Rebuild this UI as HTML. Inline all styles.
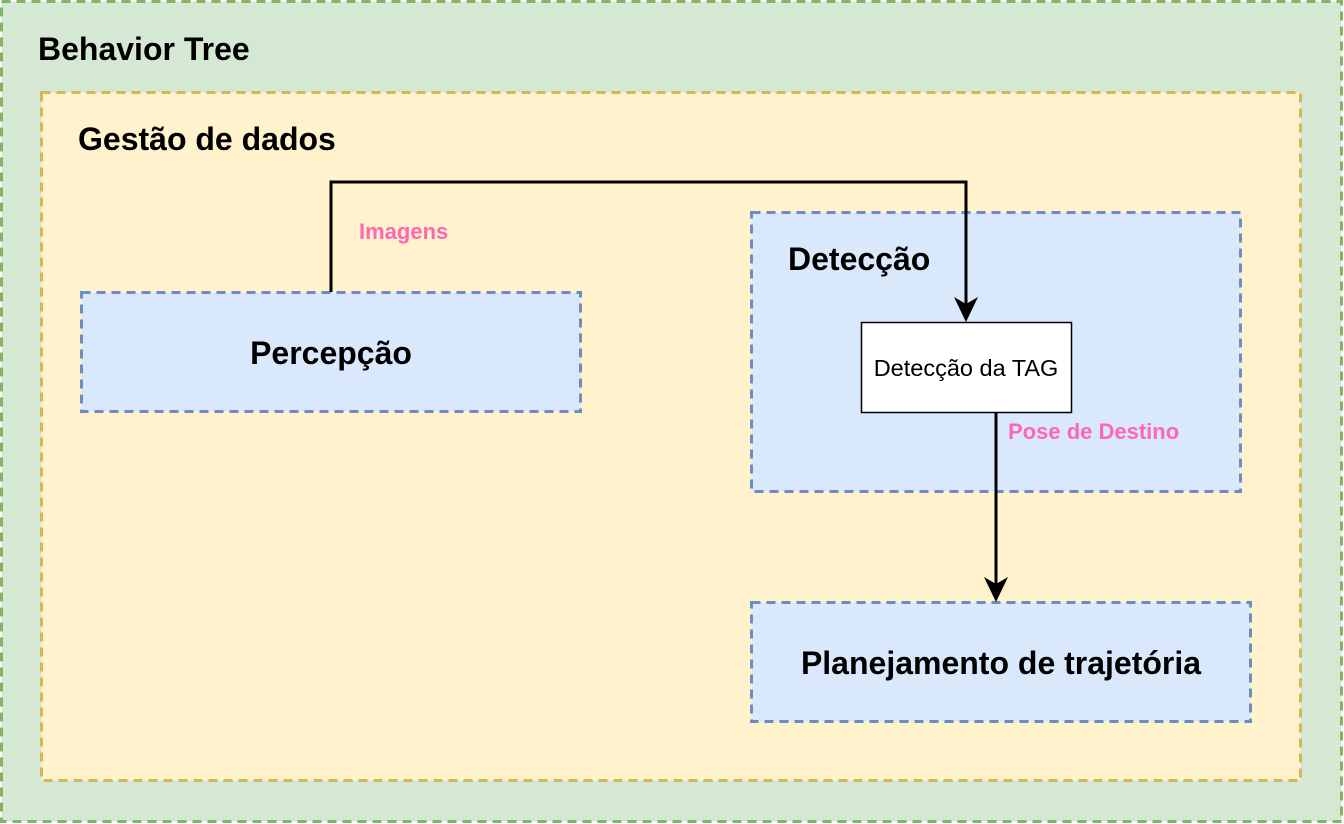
<!DOCTYPE html>
<html><head><meta charset="utf-8"><style>
html,body{margin:0;padding:0;background:#fff;}
svg{display:block;}
text{font-family:"Liberation Sans",sans-serif;}
</style></head><body>
<svg width="1344" height="824" viewBox="0 0 1344 824" xmlns="http://www.w3.org/2000/svg">
<rect x="1.5" y="1.5" width="1340" height="820" fill="#d5e8d4" stroke="#82b366" stroke-width="3" stroke-dasharray="9 6"/>
<rect x="41.5" y="92.5" width="1259" height="688" fill="#fff2cc" stroke="#d6b656" stroke-width="3" stroke-dasharray="9 6"/>
<rect x="81.5" y="292.5" width="499" height="119" fill="#dae8fc" stroke="#6c8ebf" stroke-width="3" stroke-dasharray="9 6"/>
<rect x="751.5" y="212.5" width="489" height="279" fill="#dae8fc" stroke="#6c8ebf" stroke-width="3" stroke-dasharray="9 6"/>
<rect x="751.5" y="602.5" width="499" height="119" fill="#dae8fc" stroke="#6c8ebf" stroke-width="3" stroke-dasharray="9 6"/>
<rect x="861.5" y="322.5" width="210" height="90" fill="#fff" stroke="#000" stroke-width="1.5"/>
<polyline points="331,292 331,182 966,182 966,308" fill="none" stroke="#000" stroke-width="3"/>
<polygon points="954,297 966,322 978,297 966,304" fill="#000"/>
<line x1="996" y1="412" x2="996" y2="588" stroke="#000" stroke-width="3"/>
<polygon points="984,577 996,602 1008,577 996,584" fill="#000"/>
<text x="38" y="60" font-size="32" font-weight="bold">Behavior Tree</text>
<text x="78" y="150" font-size="32" font-weight="bold">Gestão de dados</text>
<text x="788" y="270" font-size="32" font-weight="bold">Detecção</text>
<text x="331" y="364" font-size="32" font-weight="bold" text-anchor="middle">Percepção</text>
<text x="1001" y="674" font-size="32" font-weight="bold" text-anchor="middle">Planejamento de trajetória</text>
<text x="966" y="376" font-size="23.5" text-anchor="middle">Detecção da TAG</text>
<text x="359" y="239" font-size="22" font-weight="bold" fill="#ff66b3">Imagens</text>
<text x="1008" y="439" font-size="22" font-weight="bold" fill="#ff66b3">Pose de Destino</text>
</svg>
</body></html>
